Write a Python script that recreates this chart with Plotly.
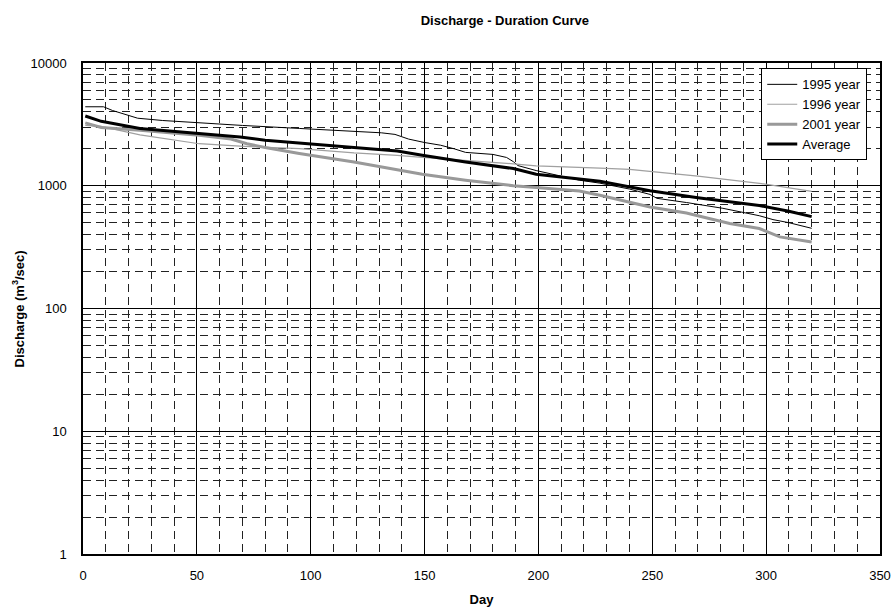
import plotly.graph_objects as go

# ---- data ----
days_1995 = [1, 9, 13, 17, 24, 35, 51, 70, 95, 119, 131, 137, 143, 150, 157, 163, 168, 180, 186, 189, 191, 199, 210, 218, 227, 240, 249, 252, 265, 281, 297, 303, 310, 320]
q_1995 = [4400, 4400, 4100, 3900, 3550, 3400, 3250, 3100, 2930, 2750, 2700, 2620, 2400, 2250, 2140, 2000, 1870, 1800, 1700, 1570, 1460, 1330, 1200, 1110, 1050, 940, 850, 790, 730, 655, 570, 530, 500, 450]

days_1996 = [1, 8, 25, 51, 69, 95, 119, 138, 149, 168, 189, 199, 218, 227, 240, 270, 298, 320]
q_1996 = [3100, 3050, 2600, 2200, 2100, 2010, 1850, 1770, 1700, 1610, 1510, 1450, 1420, 1390, 1360, 1200, 1040, 900]

days_2001 = [1, 8, 25, 51, 65, 72, 80, 95, 119, 138, 149, 168, 189, 199, 218, 227, 249, 265, 284, 297, 306, 320]
q_2001 = [3250, 2980, 2830, 2580, 2400, 2200, 2050, 1830, 1560, 1340, 1240, 1110, 1000, 966, 907, 836, 672, 600, 492, 448, 383, 348]

days_avg = [1, 8, 25, 51, 69, 80, 95, 119, 138, 149, 168, 189, 199, 218, 227, 249, 270, 297, 310, 320]
q_avg = [3700, 3350, 2930, 2660, 2500, 2350, 2240, 2050, 1920, 1770, 1560, 1380, 1240, 1140, 1090, 910, 800, 690, 620, 560]

x_ticks = [0, 50, 100, 150, 200, 250, 300, 350]
y_ticks = [1, 10, 100, 1000, 10000]

series = [
    ("1995 year", days_1995, q_1995, "#000000", 1),
    ("1996 year", days_1996, q_1996, "#a0a0a0", 1.2),
    ("2001 year", days_2001, q_2001, "#999999", 3),
    ("Average", days_avg, q_avg, "#000000", 3),
]

fig = go.Figure()
for name, x, y, color, w in series:
    fig.add_trace(go.Scatter(x=x, y=y, mode="lines", name=name,
                             line=dict(color=color, width=w)))

font_family = "Arial, Liberation Sans, sans-serif"

fig.update_layout(
    width=892, height=607,
    margin=dict(l=83, r=12, t=63, b=53, autoexpand=False),
    paper_bgcolor="white", plot_bgcolor="white",
    font=dict(family=font_family, size=13, color="black"),
    title=dict(text="<b>Discharge - Duration Curve</b>", x=0.566, xanchor="center",
               yref="container", y=0.967, yanchor="middle",
               font=dict(size=13, family=font_family)),
    showlegend=True,
    legend=dict(x=0.851, y=0.989, xanchor="left", yanchor="top",
                bgcolor="white", bordercolor="black", borderwidth=1,
                font=dict(size=13, family=font_family),
                tracegroupgap=0, itemwidth=30),
    annotations=[dict(text="<b>Discharge (m<sup>3</sup>/sec)</b>", textangle=-90,
                      xref="paper", yref="paper", x=-0.0816, y=0.5,
                      xanchor="center", yanchor="middle", showarrow=False,
                      font=dict(size=13, family=font_family))],
)

fig.update_xaxes(
    range=[0, 350], tickvals=x_ticks, ticktext=[str(v) for v in x_ticks],
    automargin=False, tickfont=dict(size=13),
    showgrid=True, gridcolor="black", gridwidth=0.8,
    showline=True, linecolor="black", linewidth=1.5, mirror=True,
    zeroline=False, ticks="", ticklabelstandoff=9,
    minor=dict(dtick=10, showgrid=True, gridcolor="#222222", gridwidth=1,
               griddash="8px,5px", ticks=""),
    title=dict(text="<b>Day</b>", font=dict(size=13)),
)

fig.update_yaxes(
    type="log", range=[0, 4], tickvals=y_ticks, ticktext=[str(v) for v in y_ticks],
    automargin=False, tickfont=dict(size=13),
    showgrid=True, gridcolor="black", gridwidth=0.8,
    showline=True, linecolor="black", linewidth=1.5, mirror=True,
    zeroline=False, ticks="", ticklabelstandoff=12,
    minor=dict(dtick="D1", showgrid=True, gridcolor="#222222", gridwidth=1,
               griddash="8px,5px", ticks=""),
)

fig.write_html("out.html", post_script="document.body.style.margin='0';",
               config={"displayModeBar": False})
